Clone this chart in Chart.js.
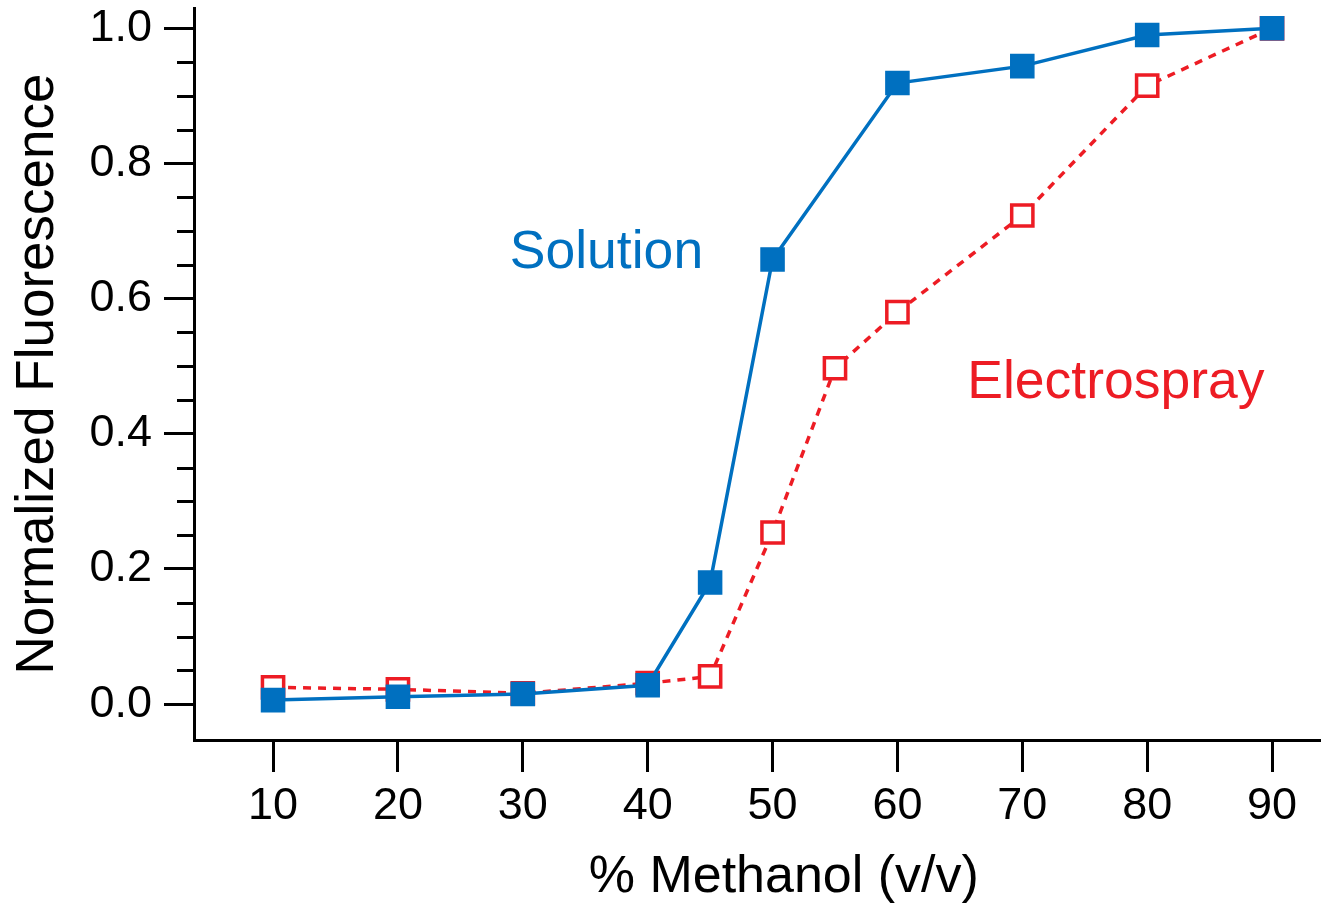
<!DOCTYPE html>
<html>
<head>
<meta charset="utf-8">
<script src="https://cdn.jsdelivr.net/npm/chart.js@4.4.1/dist/chart.umd.min.js"></script>
<style>
    html, body { margin: 0; padding: 0; background: #fff; }
    #wrap { width: 1321px; height: 903px; position: relative; }
</style>
</head>
<body>
<div id="wrap"><canvas id="chart"></canvas></div>
<script>
const solutionMethanol = [10, 20, 30, 40, 45, 50, 60, 70, 80, 90];
const solutionValues = [0.006, 0.011, 0.015, 0.028, 0.18, 0.658, 0.919, 0.944, 0.99, 1.0];

const sprayMethanol = [10, 20, 30, 40, 45, 50, 55, 60, 70, 80, 90];
const sprayValues = [0.025, 0.022, 0.016, 0.031, 0.041, 0.254, 0.497, 0.58, 0.723, 0.915, 1.0];

const xTicks = [10, 20, 30, 40, 50, 60, 70, 80, 90];
const yTicks = [0.0, 0.2, 0.4, 0.6, 0.8, 1.0];
const yMinorTicks = [0.05, 0.1, 0.15, 0.25, 0.3, 0.35, 0.45, 0.5, 0.55, 0.65, 0.7, 0.75, 0.85, 0.9, 0.95];

const BLUE = "#0070c0";
const RED = "#ed1c24";
const FONT = "'Liberation Sans', Arial, sans-serif";

const toPoints = (xs, ys) => xs.map((x, i) => ({ x: x, y: ys[i] }));

// drop the room chart.js keeps for edge labels, the frame is fixed here
const noEdgePadding = (scale) => {
    scale.paddingTop = 0;
    scale.paddingBottom = 0;
    scale.paddingLeft = 0;
    scale.paddingRight = 0;
};

// short ticks between the labelled ones on the y axis
const minorTicks = {
    id: "minorTicks",
    afterDraw(chart) {
        const { ctx, scales: { y } } = chart;
        ctx.save();
        ctx.strokeStyle = "#000";
        ctx.lineWidth = 3;
        yMinorTicks.forEach((v) => {
            const py = Math.round(y.getPixelForValue(v)) + 0.5;
            ctx.beginPath();
            ctx.moveTo(y.right - 17, py);
            ctx.lineTo(y.right, py);
            ctx.stroke();
        });
        ctx.restore();
    },
};

// series names next to the curves, and the x title (it sits a bit right of centre)
const textLabels = {
    id: "textLabels",
    afterDraw(chart, args, opts) {
        const { ctx, scales: { x, y } } = chart;
        ctx.save();
        ctx.textAlign = "center";
        ctx.textBaseline = "alphabetic";
        opts.items.forEach((it) => {
            ctx.font = it.size + "px " + FONT;
            ctx.fillStyle = it.color;
            ctx.fillText(it.text, x.getPixelForValue(it.x), y.getPixelForValue(it.y));
        });
        ctx.font = "52px " + FONT;
        ctx.fillStyle = "#000";
        ctx.fillText(opts.xTitle, x.getPixelForValue(opts.xTitleAt), chart.height - 11);
        ctx.restore();
    },
};

new Chart(document.getElementById("chart"), {
    type: "line",
    data: {
        datasets: [
            {
                label: "Solution",
                data: toPoints(solutionMethanol, solutionValues),
                borderColor: BLUE,
                borderWidth: 3.5,
                pointStyle: "rect",
                pointRadius: 16.3,
                pointHoverRadius: 16.3,
                pointBackgroundColor: BLUE,
                pointBorderColor: BLUE,
                pointBorderWidth: 1.5,
                tension: 0,
                clip: false,
            },
            {
                label: "Electrospray",
                data: toPoints(sprayMethanol, sprayValues),
                borderColor: RED,
                borderWidth: 3.5,
                borderDash: [8, 7],
                pointStyle: "rect",
                pointRadius: 15,
                pointHoverRadius: 15,
                pointBackgroundColor: "#fff",
                pointBorderColor: RED,
                pointBorderWidth: 3.5,
                tension: 0,
                clip: false,
            },
        ],
    },
    options: {
        responsive: true,
        maintainAspectRatio: false,
        animation: false,
        events: [],
        layout: { autoPadding: false, padding: { top: 8, right: 0, left: 0, bottom: 0 } },
        plugins: {
            legend: { display: false },
            tooltip: { enabled: false },
            textLabels: {
                items: [
                    { text: "Solution", color: BLUE, size: 53.5, x: 36.7, y: 0.646 },
                    { text: "Electrospray", color: RED, size: 53.5, x: 77.5, y: 0.453 },
                ],
                xTitle: "% Methanol (v/v)",
                xTitleAt: 50.9,
            },
        },
        scales: {
            x: {
                type: "linear",
                min: 3.67,
                max: 93.92,
                afterBuildTicks: (scale) => { scale.ticks = xTicks.map((v) => ({ value: v })); },
                afterFit: (scale) => { scale.height = 163; noEdgePadding(scale); },
                border: { display: true, color: "#000", width: 3 },
                grid: {
                    drawOnChartArea: false,
                    drawTicks: true,
                    tickLength: 32,
                    tickWidth: 3,
                    tickColor: "#000",
                },
                ticks: {
                    color: "#000",
                    font: { family: FONT, size: 45 },
                    padding: 8,
                    maxRotation: 0,
                    autoSkip: false,
                },
                title: { display: false },
            },
            y: {
                type: "linear",
                min: -0.053,
                max: 1.03,
                afterBuildTicks: (scale) => { scale.ticks = yTicks.map((v) => ({ value: v })); },
                afterFit: (scale) => { scale.width = 194; noEdgePadding(scale); },
                border: { display: true, color: "#000", width: 3 },
                grid: {
                    drawOnChartArea: false,
                    drawTicks: true,
                    tickLength: 30,
                    tickWidth: 3,
                    tickColor: "#000",
                },
                ticks: {
                    color: "#000",
                    font: { family: FONT, size: 45 },
                    padding: 12,
                    callback: (v) => v.toFixed(1),
                },
                title: {
                    display: true,
                    text: "Normalized Fluorescence",
                    color: "#000",
                    font: { family: FONT, size: 53, lineHeight: 1 },
                    padding: { top: 12, bottom: 0 },
                },
            },
        },
    },
    plugins: [minorTicks, textLabels],
});
</script>
</body>
</html>
